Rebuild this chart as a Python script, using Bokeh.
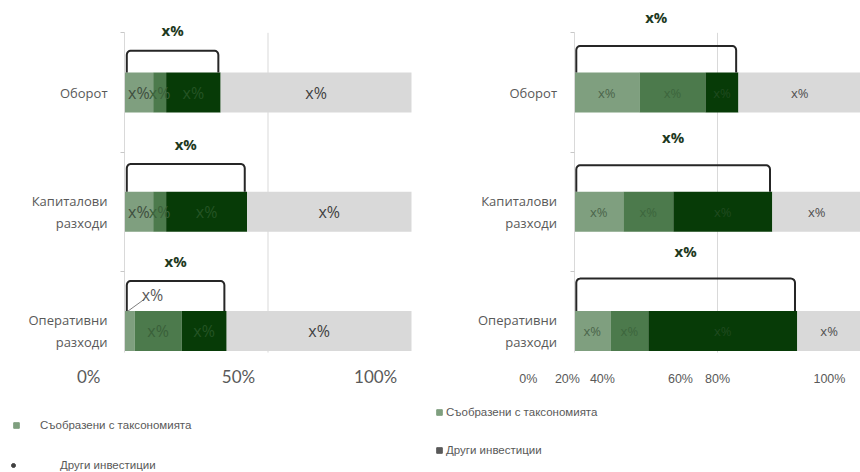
import numpy as np
from bokeh.plotting import figure
from bokeh.models import ColumnDataSource, Range1d, FixedTicker, Legend, LegendItem
from bokeh.layouts import row
from bokeh.embed import file_html
from bokeh.resources import INLINE
from bokeh.core.properties import value

# ---------------- data ----------------
categories = ["Оборот", "Капиталови\nразходи", "Оперативни\nразходи"]
legend_labels = ["Съобразени с таксономията", "Други инвестиции"]

# left chart: three green shares + remainder (percent of 100)
left_s1 = [10.0, 10.0, 3.5]
left_s2 = [4.5, 4.5, 16.4]
left_s3 = [19.0, 28.2, 15.7]
left_rest = [66.5, 57.3, 64.4]
left_segment_text = [["x%", "x%", "x%", "x%"], ["x%", "x%", "x%", "x%"], ["x%", "x%", "x%", "x%"]]
left_total_text = ["x%", "x%", "x%"]
left_tick_labels = ["0%", "50%", "100%"]

# right chart
right_s1 = [22.8, 17.2, 12.7]
right_s2 = [23.0, 17.4, 13.2]
right_s3 = [11.5, 34.5, 51.9]
right_rest = [42.7, 30.9, 22.2]
right_segment_text = [["x%", "x%", "x%", "x%"], ["x%", "x%", "x%", "x%"], ["x%", "x%", "x%", "x%"]]
right_total_text = ["x%", "x%", "x%"]
right_tick_labels = ["0%", "20%", "40%", "60%", "80%", "100%"]

# ---------------- layout / style ----------------
left_tick_at = [-12.5, 39.7, 87.5]
right_tick_at = [-15.9, -2.3, 9.9, 37.1, 50.0, 89.0]
left_bracket_rise = [0.35, 0.40, 0.42]
left_total_rise = [0.52, 0.565, 0.59]
right_bracket_rise = [0.39, 0.39, 0.44]
right_total_rise = [0.63, 0.63, 0.67]

COLORS = ["#7f9f7f", "#4c7a4c", "#073b07", "#d9d9d9"]
BAR_H = 0.335
HEIGHT = 472
PX_X = 2.87          # pixels per percent
PX_Y = 119.3         # pixels per category band
TOP_CENTER = 92      # pixel row of the first category centre
Y_END = 2 + TOP_CENTER / PX_Y
Y_START = Y_END - HEIGHT / PX_Y
Y_AXIS_LOW = -0.18   # where the plotting area ends (x axis position)
Y_AXIS_HIGH = 2.5


def bracket_path(x0, x1, yb, yt, rx=1.3, ry=0.035):
    t = np.linspace(0, np.pi / 2, 5)
    xs = [x0]
    ys = [yb]
    xs += list(x0 + rx - rx * np.cos(t))
    ys += list(yt - ry + ry * np.sin(t))
    xs += list(x1 - rx + rx * np.sin(t))
    ys += list(yt - ry + ry * np.cos(t))
    xs.append(x1)
    ys.append(yb)
    return xs, ys


def make_panel(series, rest, seg_text, total_text, tick_at, tick_labels, width, zero_px,
               tick_font, tick_size, tick_standoff, seg_size, seg_colors,
               bracket_rise, total_rise, callouts):
    x_start = -zero_px / PX_X
    x_end = (width - zero_px) / PX_X
    p = figure(width=width, height=HEIGHT, output_backend="svg", toolbar_location=None,
               x_range=Range1d(x_start, x_end), y_range=Range1d(Y_START, Y_END),
               min_border_left=0, min_border_right=0, min_border_top=0, min_border_bottom=0)
    p.outline_line_color = None
    p.background_fill_color = "white"
    p.border_fill_color = "white"

    n = len(categories)
    ypos = [n - 1 - i for i in range(n)]
    all_series = list(series) + [rest]

    # vertical gridline at 50 %
    p.segment(x0=[50], y0=[Y_AXIS_LOW], x1=[50], y1=[Y_AXIS_HIGH], line_color="#d9d9d9", line_width=1)

    cum = [0.0] * n
    lbl_x, lbl_y, lbl_t, lbl_c, lbl_dx, lbl_dy = [], [], [], [], [], []
    leader = dict(x0=[], y0=[], x1=[], y1=[])
    for k, vals in enumerate(all_series):
        lefts = list(cum)
        rights = [c + v for c, v in zip(cum, vals)]
        src = ColumnDataSource(dict(y=ypos, l=lefts, r=rights))
        p.hbar(y="y", left="l", right="r", height=BAR_H, source=src,
               fill_color=COLORS[k], line_color=None)
        for i in range(n):
            cx = (lefts[i] + rights[i]) / 2
            dx, dy = callouts.get((i, k), (0, 0))
            lbl_x.append(cx)
            lbl_y.append(ypos[i])
            lbl_t.append(seg_text[i][k])
            lbl_c.append(seg_colors[k] if (i, k) not in callouts else "#595959")
            lbl_dx.append(dx)
            lbl_dy.append(dy)
            if (i, k) in callouts:
                leader["x0"].append(lefts[i] + 1.2)
                leader["y0"].append(ypos[i] + BAR_H / 2)
                leader["x1"].append(cx + (dx - 8) / PX_X)
                leader["y1"].append(ypos[i] - (dy + 4) / PX_Y)
        cum = rights

    # brackets over the green part
    totals = [sum(s[i] for s in series) for i in range(n)]
    bxs, bys, tx, ty = [], [], [], []
    for i in range(n):
        x0, x1 = 0.8, totals[i] - 0.8
        xs, ys = bracket_path(x0, x1, ypos[i] + BAR_H / 2, ypos[i] + bracket_rise[i])
        bxs.append(xs)
        bys.append(ys)
        tx.append((x0 + x1) / 2)
        ty.append(ypos[i] + total_rise[i])
    p.multi_line(xs=bxs, ys=bys, line_color="#262626", line_width=2)
    if leader["x0"]:
        p.segment(x0="x0", y0="y0", x1="x1", y1="y1", source=ColumnDataSource(leader),
                  line_color="#7f7f7f", line_width=1)

    p.text(x="x", y="y", text="t", source=ColumnDataSource(dict(x=tx, y=ty, t=total_text)),
           text_font=value("Open Sans"), text_font_style="bold", text_font_size="15px",
           text_color="#1e3a1e", text_align="center", text_baseline="middle")
    p.text(x="x", y="y", text="t", x_offset="dx", y_offset="dy",
           source=ColumnDataSource(dict(x=lbl_x, y=lbl_y, t=lbl_t, c=lbl_c, dx=lbl_dx, dy=lbl_dy)),
           text_font=value("Open Sans"), text_font_size=seg_size,
           text_color="c", text_align="center", text_baseline="middle")

    # category axis at x = 0
    yax = p.yaxis[0]
    yax.fixed_location = 0
    yax.ticker = FixedTicker(ticks=ypos, minor_ticks=[0.5, 1.5, 2.5])
    yax.major_label_overrides = {ypos[i]: categories[i] for i in range(n)}
    yax.major_label_text_font = "Open Sans"
    yax.major_label_text_font_size = "13px"
    yax.major_label_text_color = "#595959"
    yax.major_label_text_align = "center"
    yax.major_label_standoff = 13
    yax.major_tick_line_color = None
    yax.major_tick_out = 0
    yax.major_tick_in = 0
    yax.minor_tick_out = 4
    yax.minor_tick_in = 0
    yax.minor_tick_line_color = "#c8c8c8"
    yax.axis_line_color = "#d9d9d9"
    yax.bounds = (Y_AXIS_LOW, Y_AXIS_HIGH)

    # value axis along the bottom of the bars
    xax = p.xaxis[0]
    xax.fixed_location = Y_AXIS_LOW
    xax.ticker = FixedTicker(ticks=tick_at, minor_ticks=[])
    xax.major_label_overrides = {tick_at[i]: tick_labels[i] for i in range(len(tick_at))}
    xax.major_label_text_font = tick_font
    xax.major_label_text_font_size = tick_size
    xax.major_label_text_color = "#595959"
    xax.major_label_standoff = tick_standoff
    xax.axis_line_color = None
    xax.major_tick_line_color = None
    xax.major_tick_out = 0
    xax.major_tick_in = 0

    p.xgrid.visible = False
    p.ygrid.visible = False
    return p


left = make_panel([left_s1, left_s2, left_s3], left_rest, left_segment_text, left_total_text,
                  left_tick_at, left_tick_labels, 425, 124, "Lato", "17px", 13, "16px",
                  ["#3e4e3e", "#3a603a", "#245424", "#404040"],
                  left_bracket_rise, left_total_rise, {(2, 0): (23, -36)})
right = make_panel([right_s1, right_s2, right_s3], right_rest, right_segment_text, right_total_text,
                   right_tick_at, right_tick_labels, 435, 148.5, "Liberation Sans", "12.5px", 19, "13px",
                   ["#4b654b", "#3d663d", "#1f4a1f", "#505050"],
                   right_bracket_rise, right_total_rise, {})


def legend_proxy(p, marker, color):
    # one NaN point: nothing is drawn in the plot, but the legend gets its swatch
    src = ColumnDataSource(dict(x=np.array([np.nan]), y=np.array([np.nan])))
    return p.scatter(x="x", y="y", source=src, marker=marker, fill_color=color, line_color=color)


lg1 = legend_proxy(left, "square", COLORS[0])
lg2 = legend_proxy(left, "circle", "#404040")
rg1 = legend_proxy(right, "square", COLORS[0])
rg2 = legend_proxy(right, "square", "#595959")


def style_legend(lg):
    lg.padding = 0
    lg.margin = 0
    lg.border_line_color = None
    lg.background_fill_alpha = 0
    lg.label_text_font = "Liberation Sans"
    lg.label_text_font_size = "11.5px"
    lg.label_text_color = "#595959"
    lg.label_height = 14
    lg.glyph_height = 14
    return lg


la = style_legend(Legend(items=[LegendItem(label=legend_labels[0], renderers=[lg1])],
                         location=(9, 40)))
la.glyph_width = 14
la.label_standoff = 17
lb = style_legend(Legend(items=[LegendItem(label=legend_labels[1], renderers=[lg2])],
                         location=(8, 0)))
lb.glyph_width = 10
lb.label_standoff = 42
left.add_layout(la, "center")
left.add_layout(lb, "center")

lr = style_legend(Legend(items=[LegendItem(label=legend_labels[0], renderers=[rg1]),
                                LegendItem(label=legend_labels[1], renderers=[rg2])],
                         location=(7, 15)))
lr.glyph_width = 14
lr.label_standoff = 0
lr.spacing = 24
right.add_layout(lr, "center")

layout = row(left, right)
open("out.html", "w").write(file_html(layout, INLINE))
